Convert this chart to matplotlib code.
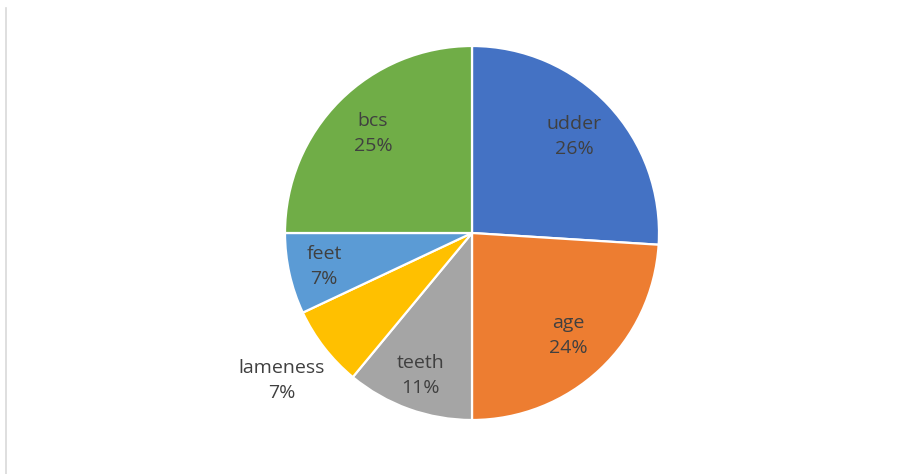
import numpy as np
import matplotlib.pyplot as plt
from matplotlib.lines import Line2D

plt.rcParams['font.family'] = ['Open Sans', 'DejaVu Sans']

# share of each trait
traits = ['udder', 'age', 'teeth', 'lameness', 'feet', 'bcs']
shares = [26, 24, 11, 7, 7, 25]
colors = ['#4472C4', '#ED7D31', '#A5A5A5', '#FFC000', '#5B9BD5', '#70AD47']

W, H = 920, 474
fig = plt.figure(figsize=(W / 100, H / 100), dpi=100)

cx, cy, r = 472, 233, 187
ax = fig.add_axes([(cx - r) / W, (H - cy - r) / H, 2 * r / W, 2 * r / H])

wedges, _ = ax.pie(shares, colors=colors, startangle=90, counterclock=False,
                   wedgeprops=dict(edgecolor='white', linewidth=1.6))
ax.set_xlim(-1, 1)
ax.set_ylim(-1, 1)
ax.set_aspect('equal')
ax.axis('off')

total = sum(shares)
for w, name, val in zip(wedges, traits, shares):
    mid = np.deg2rad((w.theta1 + w.theta2) / 2)
    if name == 'lameness':
        dist = 1.29
    elif val < 15:
        dist = 0.81
    else:
        dist = 0.75
    ax.text(dist * np.cos(mid), dist * np.sin(mid),
            f'{name}\n{round(100 * val / total)}%',
            ha='center', va='center', fontsize=14, color='#404040',
            linespacing=1.5)

# thin frame line on the left edge
fig.add_artist(Line2D([6.5 / W, 6.5 / W], [0, 1 - 8 / H],
                      transform=fig.transFigure, color='#d9d9d9', lw=1.2))

fig.savefig('out.png', dpi=100)
